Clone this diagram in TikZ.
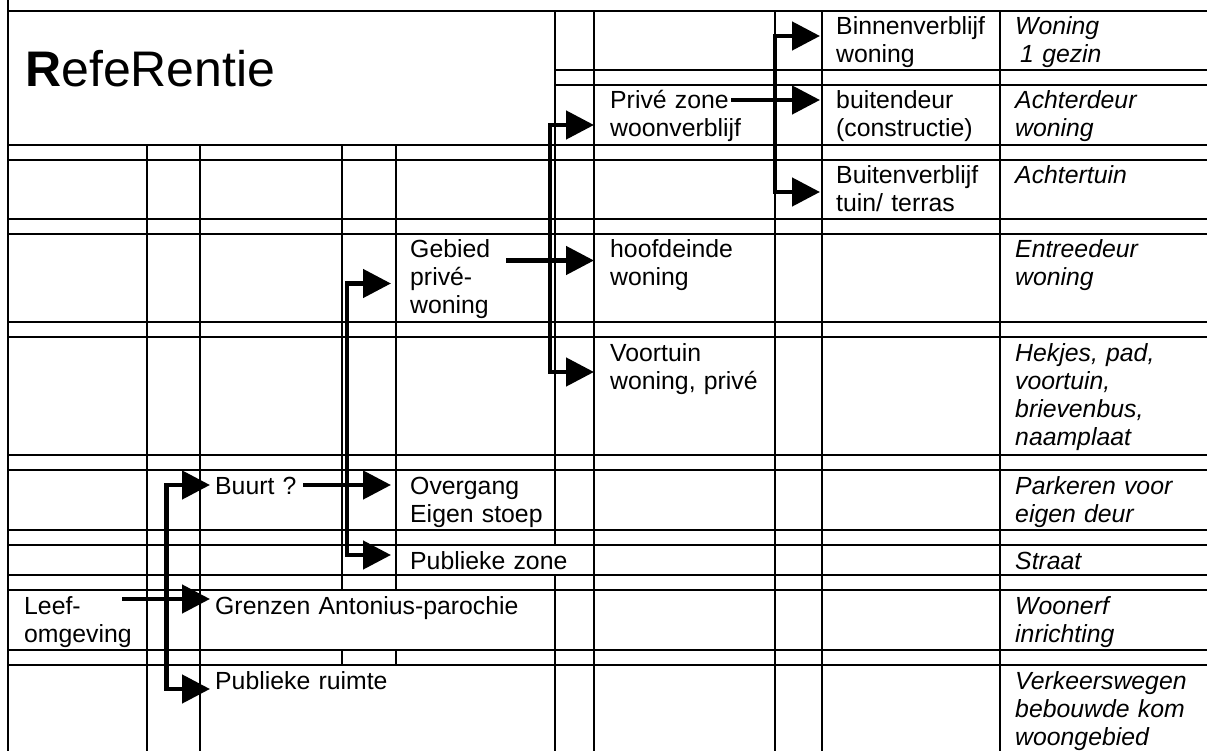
\documentclass[tikz,border=0pt]{standalone}
\usepackage{fontspec}
\setmainfont{Liberation Sans}
\usetikzlibrary{arrows.meta}

\begin{document}
\begin{tikzpicture}[x=1pt,y=-1pt,
  rule/.style={line width=1.5pt, line cap=rect},
  cell/.style={anchor=base west, inner sep=0pt, text width=420pt, align=left,
    font=\fontsize{24.8}{28}\selectfont},
  note/.style={cell, font=\fontsize{24.8}{28}\selectfont\itshape},
  conn/.style={line width=4.7pt, -{Triangle[length=28pt,width=28pt]}},
  fan/.style={line width=4.7pt, line join=miter,
    {Triangle[length=28pt,width=28pt]}-{Triangle[length=28pt,width=28pt]}}]

\useasboundingbox (0,0) rectangle (1207,751);

% ---- table rules ----
\foreach \y in {11,145,160,219,234,322,337,455,470,530,545,575,590,650,665}
  \draw[rule] (8,\y) -- (1207,\y);
\foreach \y in {70,85}
  \draw[rule] (555,\y) -- (1207,\y);
\draw[rule] (8,0) -- (8,751);
\foreach \x in {147,200}
  \draw[rule] (\x,145) -- (\x,751);
\foreach \x in {342,396} {
  \draw[rule] (\x,145) -- (\x,590);
  \draw[rule] (\x,650) -- (\x,665);
}
\draw[rule] (555,11) -- (555,545);
\draw[rule] (555,575) -- (555,751);
\foreach \x in {594,775,822,1000}
  \draw[rule] (\x,11) -- (\x,751);

% ---- title ----
\node[anchor=base west, inner sep=0pt, font=\fontsize{50}{56}\selectfont]
  (title) at (25,87) {\textbf{R}efeRentie};

% ---- levels ----
\node[cell] (binnen) at (836,35) {Binnenverblijf\\woning};
\node[cell] (buitendeur) at (836,109) {buitendeur\\(constructie)};
\node[cell] (buitenverblijf) at (836,184) {Buitenverblijf\\tuin/ terras};
\node[cell] (prive) at (610,109) {Privé zone\\woonverblijf};
\node[cell] (hoofdeinde) at (610,258) {hoofdeinde\\woning};
\node[cell] (voortuin) at (610,361) {Voortuin\\woning, privé};
\node[cell] (gebied) at (410,258) {Gebied\\privé-\\woning};
\node[cell] (overgang) at (410,494) {Overgang\\Eigen stoep};
\node[cell] (pubzone) at (410,569) {Publieke zone};
\node[cell] (buurt) at (215,494) {Buurt ?};
\node[cell] (grenzen) at (215,614) {Grenzen Antonius-parochie};
\node[cell] (pubruimte) at (215,689) {Publieke ruimte};
\node[cell] (leef) at (24,614) {Leef-\\omgeving};

% ---- examples ----
\node[note] (woning) at (1015,35) {Woning\\\hspace*{5pt}1 gezin};
\node[note] (achterdeur) at (1015,109) {Achterdeur\\woning};
\node[note] (achtertuin) at (1015,184) {Achtertuin};
\node[note] (entreedeur) at (1015,258) {Entreedeur\\woning};
\node[note] (hekjes) at (1015,361) {Hekjes, pad,\\voortuin,\\brievenbus,\\naamplaat};
\node[note] (parkeren) at (1015,494) {Parkeren voor\\eigen deur};
\node[note] (straat) at (1015,569) {Straat};
\node[note] (woonerf) at (1015,614) {Woonerf\\inrichting};
\node[note] (verkeer) at (1015,689) {Verkeerswegen\\bebouwde kom\\woongebied};

% ---- connector points ----
\coordinate (leef-out) at (122,599);
\coordinate (grenzen-in) at (210,599);
\coordinate (buurt-in) at (210,485);
\coordinate (pubruimte-in) at (210,689);
\coordinate (barA) at (166.5,0);

\coordinate (buurt-out) at (303,485);
\coordinate (overgang-in) at (391,485);
\coordinate (gebied-in) at (391,283.5);
\coordinate (pubzone-in) at (391,555);
\coordinate (barB) at (347,0);

\coordinate (gebied-out) at (506,260.5);
\coordinate (hoofdeinde-in) at (594,260.5);
\coordinate (prive-in) at (594,125);
\coordinate (voortuin-in) at (594,372);
\coordinate (barC) at (550,0);

\coordinate (prive-out) at (731,100);
\coordinate (buitendeur-in) at (820,100);
\coordinate (binnen-in) at (820,36);
\coordinate (buitenverblijf-in) at (820,192);
\coordinate (barD) at (775,0);

% ---- connectors ----
\draw[fan] (buurt-in) -- (buurt-in -| barA) -- (pubruimte-in -| barA) -- (pubruimte-in);
\draw[conn] (leef-out) -- (grenzen-in);

\draw[fan] (gebied-in) -- (gebied-in -| barB) -- (pubzone-in -| barB) -- (pubzone-in);
\draw[conn] (buurt-out) -- (overgang-in);

\draw[fan] (prive-in) -- (prive-in -| barC) -- (voortuin-in -| barC) -- (voortuin-in);
\draw[conn] (gebied-out) -- (hoofdeinde-in);

\draw[fan] (binnen-in) -- (binnen-in -| barD) -- (buitenverblijf-in -| barD) -- (buitenverblijf-in);
\draw[conn] (prive-out) -- (buitendeur-in);

\end{tikzpicture}
\end{document}
